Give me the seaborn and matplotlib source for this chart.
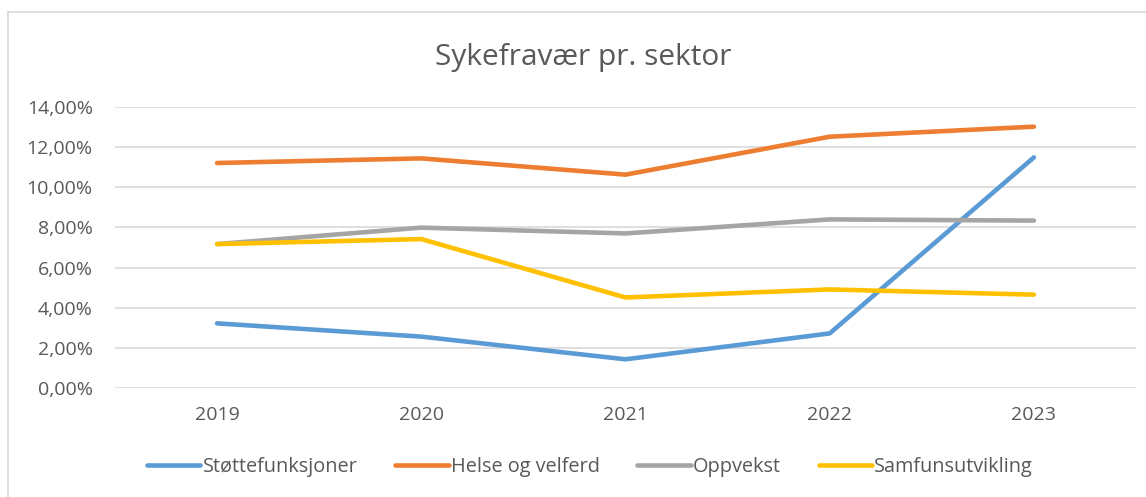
import matplotlib
matplotlib.use("Agg")
import matplotlib.pyplot as plt
import matplotlib.ticker as mticker
import pandas as pd
import seaborn as sns

years = ["2019", "2020", "2021", "2022", "2023"]
stottefunksjoner = [3.22, 2.56, 1.43, 2.72, 11.49]
helse_og_velferd = [11.21, 11.44, 10.63, 12.52, 13.02]
oppvekst = [7.17, 7.99, 7.70, 8.40, 8.34]
samfunsutvikling = [7.17, 7.42, 4.51, 4.91, 4.65]

series = {
    "Støttefunksjoner": stottefunksjoner,
    "Helse og velferd": helse_og_velferd,
    "Oppvekst": oppvekst,
    "Samfunsutvikling": samfunsutvikling,
}
colors = ["#5B9BD5", "#ED7D31", "#A5A5A5", "#FFC000"]

rows = []
for name, vals in series.items():
    for yr, v in zip(years, vals):
        rows.append({"År": yr, "Sektor": name, "Fravær": v / 100})
df = pd.DataFrame(rows)

sns.set_style("white")
plt.rcParams["font.family"] = ["Open Sans", "DejaVu Sans"]
text_col = "#595959"

fig = plt.figure(figsize=(11.46, 4.97), dpi=100)
ax = fig.add_axes([115 / 1146, 1 - 388 / 497, 1021 / 1146, 281 / 497])

sns.lineplot(data=df, x="År", y="Fravær", hue="Sektor", hue_order=list(series),
             palette=colors, linewidth=3.3, ax=ax, sort=False)
for ln in ax.get_lines():
    ln.set_solid_capstyle("round")
    ln.set_solid_joinstyle("round")

ax.set_xlim(-0.5, len(years) - 0.5)
ax.set_ylim(0, 0.14)
ax.yaxis.set_major_locator(mticker.MultipleLocator(0.02))
ax.yaxis.set_major_formatter(mticker.FuncFormatter(
    lambda v, p: f"{v * 100:.2f}%".replace(".", ",")))
ax.grid(axis="y", color="#d9d9d9", linewidth=1.2)
ax.set_axisbelow(True)
for s in ax.spines.values():
    s.set_visible(False)
ax.tick_params(axis="both", length=0, labelsize=14, colors=text_col)
ax.tick_params(axis="x", pad=13)
ax.tick_params(axis="y", pad=16)
ax.set_xlabel("")
ax.set_ylabel("")

fig.text(583 / 1146, 1 - 57 / 497, "Sykefravær pr. sektor", ha="center", va="center",
         fontsize=21.5, color=text_col)

handles, labels = ax.get_legend_handles_labels()
ax.get_legend().remove()
fig.legend(handles, labels, loc="center", bbox_to_anchor=(590 / 1146, 1 - 467 / 497),
           ncol=4, frameon=False, fontsize=14.3, labelcolor=text_col,
           handlelength=2.7, handletextpad=0.1, columnspacing=1.9)

# chart frame
fig.add_artist(plt.Line2D([8 / 1146, 1.0], [1 - 12 / 497] * 2, color="#d9d9d9",
                          linewidth=1.2, transform=fig.transFigure))
fig.add_artist(plt.Line2D([8 / 1146] * 2, [0.0, 1 - 12 / 497], color="#d9d9d9",
                          linewidth=1.2, transform=fig.transFigure))

fig.savefig("out.png", dpi=100)
